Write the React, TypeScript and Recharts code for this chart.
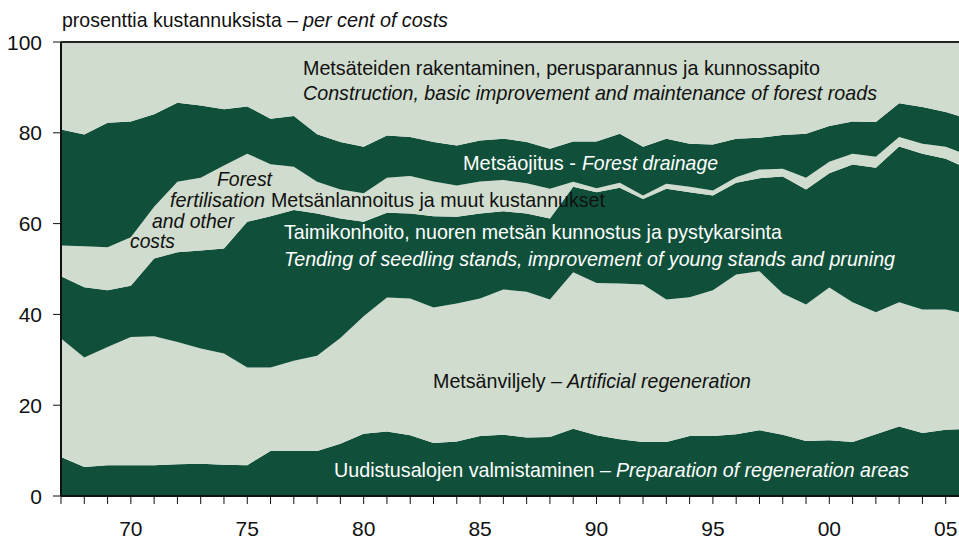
import React from 'react';
import { AreaChart, Area, XAxis, YAxis, ReferenceLine } from 'recharts';

// Years covered by the chart
const years = [
  1967, 1968, 1969, 1970, 1971, 1972, 1973, 1974, 1975, 1976,
  1977, 1978, 1979, 1980, 1981, 1982, 1983, 1984, 1985, 1986,
  1987, 1988, 1989, 1990, 1991, 1992, 1993, 1994, 1995, 1996,
  1997, 1998, 1999, 2000, 2001, 2002, 2003, 2004, 2005, 2006,
];

// Shares of costs, per cent (bottom to top)
const preparation = [
  8.6, 6.4, 6.8, 6.8, 6.8, 7.0, 7.1, 6.9, 6.8, 9.9,
  9.9, 9.9, 11.5, 13.7, 14.2, 13.4, 11.7, 12.0, 13.2, 13.5,
  12.9, 13.0, 14.8, 13.4, 12.5, 11.9, 11.9, 13.2, 13.2, 13.6,
  14.5, 13.5, 12.1, 12.3, 11.9, 13.6, 15.3, 13.9, 14.6, 14.8,
];
const regeneration = [
  26.1, 24.1, 26.0, 28.2, 28.4, 26.9, 25.4, 24.5, 21.5, 18.4,
  19.9, 21.0, 23.3, 25.9, 29.5, 30.1, 29.8, 30.4, 30.3, 32.0,
  32.1, 30.3, 34.5, 33.5, 34.3, 34.7, 31.4, 30.6, 32.1, 35.2,
  35.0, 31.1, 30.1, 33.6, 30.8, 26.9, 27.4, 27.2, 26.5, 25.2,
];
const tending = [
  13.7, 15.5, 12.5, 11.3, 17.1, 19.8, 21.6, 23.1, 32.1, 33.3,
  33.2, 31.3, 26.3, 20.8, 18.7, 18.7, 20.1, 19.1, 18.7, 17.2,
  17.2, 17.8, 18.8, 20.0, 21.1, 18.8, 24.4, 23.1, 20.9, 20.2,
  20.5, 25.8, 25.3, 25.2, 30.3, 31.8, 34.3, 34.3, 33.2, 32.0,
];
const fertilisation = [
  6.8, 9.0, 9.5, 10.7, 11.4, 15.5, 16.0, 18.3, 15.0, 11.5,
  9.5, 7.0, 6.4, 6.3, 7.7, 8.3, 7.7, 6.9, 7.1, 6.9,
  6.7, 6.6, 1.1, 0.9, 1.1, 0.8, 1.1, 1.2, 1.1, 1.2,
  1.9, 1.7, 2.6, 2.5, 2.4, 2.4, 2.1, 2.2, 2.6, 3.0,
];
const drainage = [
  25.5, 24.6, 27.4, 25.5, 20.4, 17.4, 15.9, 12.4, 10.4, 10.0,
  11.2, 10.5, 10.5, 10.2, 9.3, 8.6, 8.7, 8.8, 9.0, 9.1,
  9.1, 8.8, 8.9, 10.3, 10.8, 10.7, 9.9, 9.5, 10.1, 8.5,
  7.0, 7.4, 9.7, 7.9, 7.1, 7.7, 7.4, 8.1, 7.7, 8.0,
];
const roads = [
  19.3, 20.4, 17.8, 17.5, 15.9, 13.4, 14.0, 14.8, 14.2, 16.9,
  16.3, 20.3, 22.0, 23.1, 20.6, 20.9, 22.0, 22.8, 21.7, 21.3,
  22.0, 23.5, 21.9, 21.9, 20.2, 23.1, 21.3, 22.4, 22.6, 21.3,
  21.1, 20.5, 20.2, 18.5, 17.5, 17.6, 13.5, 14.3, 15.4, 17.0,
];

const yTicks = [0, 20, 40, 60, 80, 100];

const data = years.map((year, i) => ({
  year,
  preparation: preparation[i],
  regeneration: regeneration[i],
  tending: tending[i],
  fertilisation: fertilisation[i],
  drainage: drainage[i],
  roads: roads[i],
}));

const DARK = '#10503a';
const LIGHT = '#d0dccd';
const FONT = "'Liberation Sans Narrow', 'Arial Narrow', 'Liberation Sans', sans-serif";
const FS = 21;

const XTick = (props: any) => {
  const { x, y, payload } = props;
  const v = payload.value as number;
  if (v % 5 !== 0) return null;
  return (
    <text x={x} y={y + 32} textAnchor="middle" fontFamily={FONT} fontSize={FS} fill="#111">
      {String(v).slice(2)}
    </text>
  );
};

const YTick = (props: any) => {
  const { x, y, payload } = props;
  return (
    <text x={x - 11} y={y + 7.5} textAnchor="end" fontFamily={FONT} fontSize={FS} fill="#111">
      {payload.value}
    </text>
  );
};

const series: { key: string; color: string }[] = [
  { key: 'preparation', color: DARK },
  { key: 'regeneration', color: LIGHT },
  { key: 'tending', color: DARK },
  { key: 'fertilisation', color: LIGHT },
  { key: 'drainage', color: DARK },
  { key: 'roads', color: LIGHT },
];

const fit = { lengthAdjust: 'spacingAndGlyphs' as const };

export default function App() {
  return (
    <div style={{ position: 'absolute', left: 0, top: 0, width: 959, height: 539, overflow: 'hidden', background: '#fff' }}>
      <AreaChart
        width={971}
        height={539}
        data={data}
        margin={{ top: 42, right: 2, bottom: 0, left: 0 }}
      >
        {series.map((s) => (
          <Area
            key={s.key}
            type="linear"
            dataKey={s.key}
            stackId="1"
            stroke="none"
            fill={s.color}
            fillOpacity={1}
            isAnimationActive={false}
          />
        ))}
        <XAxis
          dataKey="year"
          type="number"
          domain={[1967, 2006]}
          ticks={years}
          interval={0}
          height={43}
          tickSize={8}
          tickMargin={0}
          axisLine={{ stroke: '#111', strokeWidth: 2 }}
          tickLine={{ stroke: '#111', strokeWidth: 1 }}
          tick={<XTick />}
        />
        <YAxis
          type="number"
          domain={[0, 100]}
          ticks={yTicks}
          interval={0}
          width={61}
          tickSize={8}
          tickMargin={0}
          axisLine={{ stroke: '#111', strokeWidth: 2 }}
          tickLine={{ stroke: '#111', strokeWidth: 1 }}
          tick={<YTick />}
        />
        <ReferenceLine y={100} stroke="#222" strokeWidth={2} ifOverflow="extendDomain" />
      </AreaChart>
      <svg
        width={959}
        height={539}
        style={{ position: 'absolute', left: 0, top: 0, pointerEvents: 'none' }}
        fontFamily={FONT}
        fontSize={FS}
      >
        <text x={62} y={27} fill="#111" textLength={236} {...fit}>prosenttia kustannuksista –</text>
        <text x={303} y={27} fill="#111" fontStyle="italic" textLength={145} {...fit}>per cent of costs</text>

        <text x={303} y={75} fill="#111" textLength={517} {...fit}>
          Metsäteiden rakentaminen, perusparannus ja kunnossapito
        </text>
        <text x={303} y={100} fill="#111" fontStyle="italic" textLength={574} {...fit}>
          Construction, basic improvement and maintenance of forest roads
        </text>

        <text x={463} y={170} fill="#fff" textLength={113} {...fit}>Metsäojitus -</text>
        <text x={582} y={170} fill="#fff" fontStyle="italic" textLength={136} {...fit}>Forest drainage</text>

        <text x={217} y={186} fill="#111" fontStyle="italic" textLength={55} {...fit}>Forest</text>
        <text x={170} y={207} fill="#111" fontStyle="italic" textLength={95} {...fit}>fertilisation</text>
        <text x={271} y={207} fill="#111" textLength={334} {...fit}>Metsänlannoitus ja muut kustannukset</text>
        <text x={152} y={228} fill="#111" fontStyle="italic" textLength={82} {...fit}>and other</text>
        <text x={130} y={248} fill="#111" fontStyle="italic" textLength={45} {...fit}>costs</text>

        <text x={284} y={239} fill="#fff" textLength={498} {...fit}>
          Taimikonhoito, nuoren metsän kunnostus ja pystykarsinta
        </text>
        <text x={284} y={266} fill="#fff" fontStyle="italic" textLength={611} {...fit}>
          Tending of seedling stands, improvement of young stands and pruning
        </text>

        <text x={433} y={388} fill="#111" textLength={129} {...fit}>Metsänviljely –</text>
        <text x={567} y={388} fill="#111" fontStyle="italic" textLength={184} {...fit}>Artificial regeneration</text>

        <text x={334} y={477} fill="#fff" textLength={277} {...fit}>Uudistusalojen valmistaminen –</text>
        <text x={616} y={477} fill="#fff" fontStyle="italic" textLength={293} {...fit}>
          Preparation of regeneration areas
        </text>
      </svg>
    </div>
  );
}
